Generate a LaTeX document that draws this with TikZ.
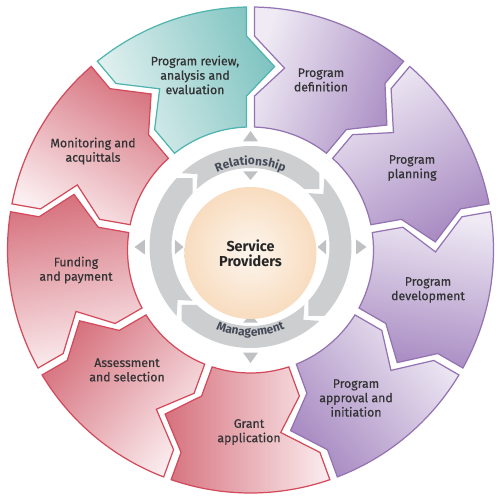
\documentclass[tikz,border=0pt]{standalone}
\usepackage{fontspec}
\setmainfont{Fira Sans}
\newfontfamily\stagefont[FakeBold=0.5]{Fira Sans}
\usetikzlibrary{decorations.text}

\definecolor{tealL}{HTML}{E6F3F2}
\definecolor{tealD}{HTML}{80C4C1}
\definecolor{tealE}{HTML}{4FB4AF}
\definecolor{purpL}{HTML}{EFEAF4}
\definecolor{purpD}{HTML}{A98CC3}
\definecolor{purpE}{HTML}{9473B2}
\definecolor{redL}{HTML}{FBEEF0}
\definecolor{redD}{HTML}{D6717D}
\definecolor{redE}{HTML}{D34A5B}
\definecolor{ringgrey}{HTML}{CDCED0}
\definecolor{markgrey}{HTML}{BFC1C3}
\definecolor{ringtext}{HTML}{454B58}
\definecolor{lbltext}{HTML}{333335}
\definecolor{coreL}{HTML}{FDF6EE}
\definecolor{coreD}{HTML}{F8DCBF}

\begin{document}
\begin{tikzpicture}[x=0.2mm, y=0.2mm]
	\useasboundingbox (-250.5,-252) rectangle (246.5,250);

	% outer ring of stages, each one pointing clockwise into the next
	\foreach \a/\fam [evaluate=\a as \s using \a-160] in
		{90/teal, 50/purp, 10/purp, -30/purp, -70/purp, -110/red, -150/red, -190/red, 130/red}
	{
		\draw [draw=\fam E, line width=0.7pt, top color=\fam D, bottom color=\fam L, shading angle=\s]
			(\a+0.94:243) arc[start angle=\a+0.94, end angle=\a+39.06, radius=243]
			-- (\a+38.93:214) -- (\a+29.4:185) -- (\a+38.51:154) -- (\a+38.14:123)
			arc[start angle=\a+38.14, end angle=\a+1.86, radius=123]
			-- (\a+1.49:154) -- (\a-7.5:185) -- (\a+1.07:214) -- cycle;
	}

	% relationship / management ring
	\begin{scope}[shift={(0,3)}]
		\foreach \a in {45, -45, -135, 135}
			\fill [ringgrey] (\a+2:101) arc[start angle=\a+2, end angle=\a+88, radius=101]
				-- (\a+81:90) -- (\a+88:79) arc[start angle=\a+88, end angle=\a+2, radius=79]
				-- (\a-5:90) -- cycle;
		\foreach \a in {90, 0, -90, 180} {
			\fill [markgrey] (\a+4:106) -- (\a:116) -- (\a-4:106) -- cycle;
			\fill [markgrey] (\a+5.5:76) -- (\a:67) -- (\a-5.5:76) -- cycle;
		}
		\path [decorate, decoration={text along path, text align=center, text color=ringtext,
			text={|\bfseries\fontsize{6.8}{8}\selectfont|Relationship}}]
			(125:82) arc[start angle=125, end angle=55, radius=82];
		\path [decorate, decoration={text along path, text align=center, text color=ringtext,
			text={|\bfseries\fontsize{6.8}{8}\selectfont|Management}}]
			(-125:89) arc[start angle=-125, end angle=-55, radius=89];
	\end{scope}

	\node [circle, minimum size=26.4mm, inner sep=0pt, inner color=coreL, outer color=coreD,
		align=center, font=\bfseries\fontsize{8.2}{8.6}\selectfont, text=black!85] (hub) at (0,-3) {Service\\Providers};

	\begin{scope}
		\tikzstyle{every node}=[align=center, text=lbltext, font=\stagefont\fontsize{7}{8.2}\selectfont]

		\node (review)  at (-55.5, 175)  {Program review,\\analysis and\\evaluation};
		\node (defn)    at (70.5, 170)   {Program\\definition};
		\node (plan)    at (161.5, 82)   {Program\\planning};
		\node (devt)    at (177.5, -40)  {Program\\development};
		\node (approve) at (105.5, -148) {Program\\approval and\\initiation};
		\node (grant)   at (-1.5, -182)  {Grant\\application};
		\node (assess)  at (-123.5, -120) {Assessment\\and selection};
		\node (fund)    at (-174.5, -20) {Funding\\and payment};
		\node (monitor) at (-157.5, 99)  {Monitoring and\\acquittals};
	\end{scope}
\end{tikzpicture}
\end{document}
